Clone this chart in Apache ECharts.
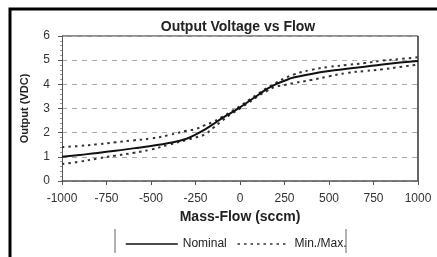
<!DOCTYPE html>
<html><head><meta charset="utf-8">
<script src="https://cdn.jsdelivr.net/npm/echarts@6/dist/echarts.min.js"></script>
<style>html,body{margin:0;padding:0;background:#fff}#c{width:437px;height:257px}</style>
</head><body><div id="c"></div>
<script>
const flow = [-1000,-900,-800,-700,-600,-500,-400,-300,-250,-200,-150,-100,-50,0,50,100,150,200,250,300,400,500,600,700,800,900,1000];
const nominal = [1.0,1.08,1.16,1.25,1.35,1.45,1.57,1.75,1.92,2.12,2.35,2.6,2.82,3.05,3.3,3.55,3.8,4.0,4.15,4.28,4.43,4.55,4.64,4.73,4.82,4.9,4.97];
const maxV = [1.4,1.45,1.52,1.6,1.68,1.76,1.9,2.08,2.15,2.3,2.45,2.65,2.87,3.1,3.35,3.6,3.85,4.05,4.25,4.4,4.6,4.72,4.8,4.88,4.98,5.05,5.12];
const minV = [0.7,0.8,0.93,1.05,1.16,1.3,1.5,1.7,1.8,1.92,2.2,2.5,2.77,3.0,3.25,3.5,3.72,3.9,3.97,4.05,4.18,4.33,4.47,4.55,4.62,4.72,4.82];
const xTicks = [-1000,-750,-500,-250,0,250,500,750,1000];
const yTicks = [0,1,2,3,4,5,6];

const pair = a => flow.map((f,i)=>[f,a[i]]);
const font = 'Liberation Sans, Arial, sans-serif';
const chart = echarts.init(document.getElementById('c'));
chart.setOption({
  animation:false,
  title:{text:'Output Voltage vs Flow',left:233,top:15,textAlign:'center',
    textStyle:{fontFamily:font,fontSize:14,fontWeight:'bold',color:'#222'}},
  grid:{left:62,right:19,top:36,bottom:76},
  xAxis:{type:'value',min:-1000,max:1000,interval:250,
    name:'Mass-Flow (sccm)',nameLocation:'middle',nameGap:25,
    nameTextStyle:{fontFamily:font,fontSize:14,fontWeight:'bold',color:'#222'},
    axisLine:{lineStyle:{color:'#555',width:1.5}},
    axisTick:{show:true,length:4,lineStyle:{color:'#555'}},
    axisLabel:{fontFamily:font,fontSize:12,color:'#333',margin:12,
      formatter:v=>xTicks.includes(v)?String(v):''},
    splitLine:{show:false}},
  yAxis:{type:'value',min:0,max:6,interval:1,
    name:'Output (VDC)',nameLocation:'middle',nameGap:32,
    nameTextStyle:{fontFamily:font,fontSize:11,fontWeight:'bold',color:'#222'},
    axisLine:{show:true,onZero:false,lineStyle:{color:'#555',width:1}},
    axisTick:{show:true,length:4,lineStyle:{color:'#555'}},
    minorTick:{show:true,splitNumber:5,length:2,lineStyle:{color:'#999'}},
    axisLabel:{fontFamily:font,fontSize:12,color:'#333',margin:12,
      formatter:v=>yTicks.includes(v)?String(v):''},
    splitLine:{show:true,lineStyle:{color:'#aaa',type:[5,5],width:1}}},
  legend:{left:120,top:233,itemWidth:52,itemHeight:10,itemGap:10,
    itemStyle:{opacity:0},lineStyle:{width:1.5},
    textStyle:{fontFamily:font,fontSize:12,color:'#222'},
    data:['Nominal','Min./Max.']},
  graphic:[
    {type:'rect',shape:{x:10,y:9,width:440,height:260},style:{fill:'none',stroke:'#000',lineWidth:3},silent:true},
    {type:'line',shape:{x1:62,y1:36,x2:418,y2:36},style:{stroke:'#666',lineWidth:1.5}},
    {type:'line',shape:{x1:418,y1:36,x2:418,y2:181},style:{stroke:'#333',lineWidth:1.5}},
    {type:'line',shape:{x1:115,y1:229,x2:115,y2:253},style:{stroke:'#999',lineWidth:1.5}},
    {type:'line',shape:{x1:346,y1:229,x2:346,y2:253},style:{stroke:'#999',lineWidth:1.5}}
  ],
  series:[
    {name:'Nominal',type:'line',data:pair(nominal),smooth:true,symbol:'none',
      lineStyle:{color:'#111',width:2},itemStyle:{color:'#111'},z:3},
    {name:'Min./Max.',type:'line',data:pair(maxV),smooth:true,symbol:'none',
      lineStyle:{color:'#333',width:2,type:[2.5,4]},itemStyle:{color:'#333'},z:2},
    {name:'Min./Max.',type:'line',data:pair(minV),smooth:true,symbol:'none',
      lineStyle:{color:'#333',width:2,type:[2.5,4]},itemStyle:{color:'#333'},z:2}
  ]
});
</script></body></html>
